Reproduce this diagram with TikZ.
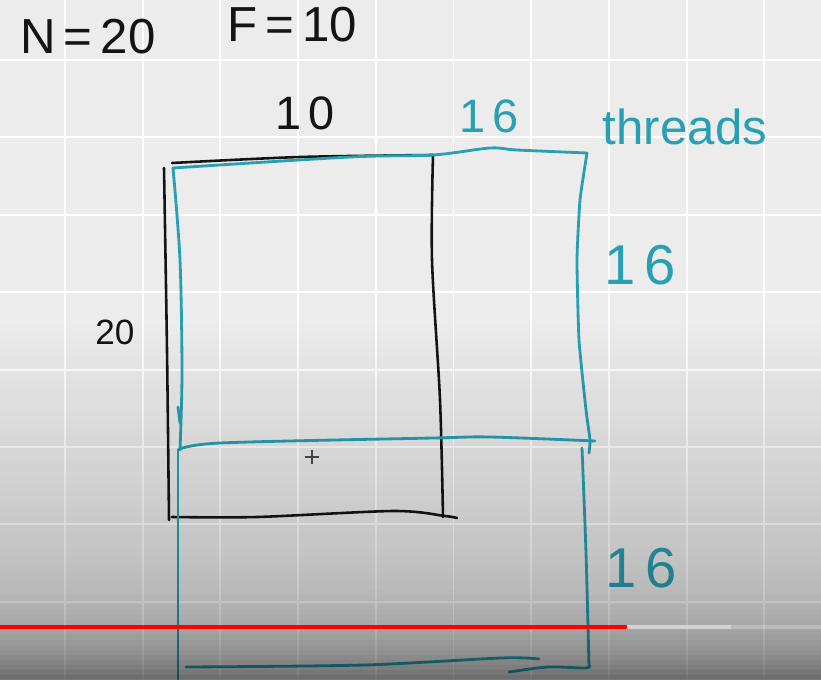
\documentclass[tikz,border=0pt]{standalone}
\usepackage{fontspec}
\setmainfont{Liberation Sans}
\definecolor{board}{RGB}{236,236,236}
\definecolor{marker}{RGB}{40,160,180}
\definecolor{ink}{RGB}{20,20,20}
\definecolor{ytred}{RGB}{255,0,0}
\definecolor{ytgray}{RGB}{210,210,210}
\tikzset{
  gridline/.style={white, line width=1.6pt},
  blackpen/.style={ink, line width=2.2pt, line cap=round, line join=round},
  tealpen/.style={marker, line width=2.4pt, line cap=round, line join=round},
  hand/.style={inner sep=0pt, font=\fontsize{#1}{#1}\selectfont},
  cursor/.style={black!70, line width=0.9pt}
}

\begin{document}
\begin{tikzpicture}[x=0.03cm, y=-0.03cm]
  \useasboundingbox (0,0) rectangle (821,679);
  % whiteboard
  \fill[board] (0,0) rectangle (821,679);
  \foreach \gx in {0,...,9}
    \draw[gridline] ({65+77.7*\gx},0) -- ({65+77.7*\gx},679);
  \foreach \gy in {0,...,7}
    \draw[gridline] (0,{60+77.4*\gy}) -- (821,{60+77.4*\gy});

  % labels
  \node[hand=42, ink] (nval) at (88,37) {N\,=\,20};
  \node[hand=42, ink] (fval) at (292,25) {F\,=\,10};
  \node[hand=40, ink] (wten) at (305,113) {1\,0};
  \node[hand=40, marker] (wsixteen) at (489,116) {1\,6};
  \node[hand=42, marker] (thr) at (685,127) {threads};
  \node[hand=48, marker] (hsixteena) at (640,265) {1\,6};
  \node[hand=30, ink] (htwenty) at (115,332) {20};
  \node[hand=48, marker] (hsixteenb) at (641,568) {1\,6};

  % data block 20 x 10
  \draw[blackpen] plot[smooth, tension=0.5] coordinates {(172,163) (300,157) (433,155)};
  \draw[blackpen] plot[smooth, tension=0.5] coordinates {(164,168) (167,350) (169,520)};
  \draw[blackpen] plot[smooth, tension=0.5] coordinates {(433,155) (432,260) (440,400) (443,517)};
  \draw[blackpen] plot[smooth, tension=0.5] coordinates {(172,517) (257,517) (394,511) (445,516) (457,518)};

  % first 16 x 16 thread block
  \draw[tealpen] plot[smooth, tension=0.5] coordinates {(173,168) (350,157) (433,155) (490,148) (517,150) (587,153)};
  \draw[tealpen] plot[smooth, tension=0.3] coordinates {(587,153) (580,200) (577,260) (579,340) (586,410) (590,440) (589,453)};
  \draw[tealpen] plot[smooth, tension=0.5] coordinates {(173,168) (180,260) (182,373) (180,450)};
  \draw[tealpen] (178,407) -- (180,423);
  \draw[tealpen] plot[smooth, tension=0.5] coordinates {(178,450) (220,443) (433,438) (490,437) (595,441)};

  % second 16 x 16 thread block
  \draw[tealpen] (178,450) -- (178,679);
  \draw[tealpen] plot[smooth, tension=0.5] coordinates {(582,448) (586,553) (589,667)};
  \draw[tealpen] plot[smooth, tension=0.5] coordinates {(186,667) (364,665) (501,658) (539,659)};
  \draw[tealpen] plot[smooth, tension=0.5] coordinates {(509,672) (548,667) (586,668) (589,665)};

  % cursor
  \coordinate (cur) at (312,457);
  \draw[cursor] ([xshift=-6]cur) -- ([xshift=6]cur);
  \draw[cursor] ([yshift=-6]cur) -- ([yshift=6]cur);

  % player shade
  \foreach \i in {0,...,71} {
    \pgfmathsetmacro\t{(\i+0.5)/72}
    \pgfmathsetmacro\op{0.25*\t+0.3*\t^8}
    \fill[black, fill opacity=\op] (0,{320+5*\i}) rectangle (821,{325+5*\i});
  }

  % progress bar
  \coordinate (barl) at (0,627);
  \coordinate (barm) at (627,627);
  \coordinate (barb) at (731,627);
  \coordinate (barr) at (821,627);
  \draw[white, opacity=0.25, line width=3pt] (barl) -- (barr);
  \draw[ytgray, line width=3pt] (barm) -- (barb);
  \draw[ytred, line width=3.2pt] (barl) -- (barm);
\end{tikzpicture}
\end{document}
